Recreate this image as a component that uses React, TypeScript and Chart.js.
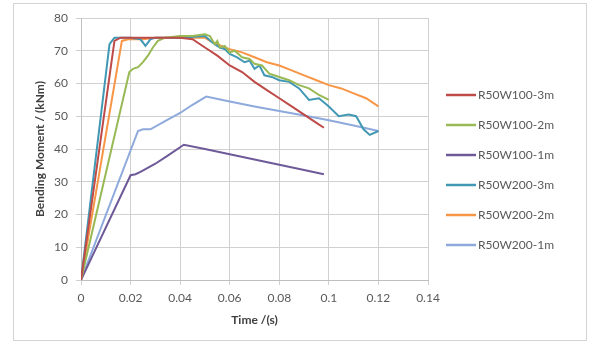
import { useEffect, useRef } from "react";
import { Chart, registerables } from "chart.js";

Chart.register(...registerables);

// ---- data ----
const seriesNames = [
  "R50W100-3m",
  "R50W100-2m",
  "R50W100-1m",
  "R50W200-3m",
  "R50W200-2m",
  "R50W200-1m",
];
const seriesColors = ["#BE4B48", "#98B954", "#6E5A98", "#4198B5", "#F79646", "#8EA9DB"];

const tW100_3 = [0, 0.0135, 0.016, 0.02, 0.03, 0.04, 0.045, 0.05, 0.055, 0.06, 0.065, 0.07, 0.075, 0.08, 0.085, 0.09, 0.095, 0.098];
const vW100_3 = [0, 73, 74, 74, 74, 74, 73.5, 71, 68.5, 65.5, 63.5, 60.5, 58, 55.5, 53, 50.5, 48, 46.5];

const tW100_2 = [0, 0.0195, 0.021, 0.023, 0.025, 0.027, 0.029, 0.031, 0.034, 0.04, 0.045, 0.05, 0.052, 0.054, 0.055, 0.056, 0.058, 0.06, 0.062, 0.065, 0.068, 0.07, 0.073, 0.076, 0.08, 0.084, 0.088, 0.092, 0.096, 0.1];
const vW100_2 = [0, 63.5, 64.5, 65, 66.5, 68.5, 71, 73, 74, 74.5, 74.5, 75, 74.5, 72, 73, 71, 71.5, 69.5, 70, 68, 67.5, 66, 65.5, 63, 62, 61, 59.5, 58.5, 56.5, 55];

const tW100_1 = [0, 0.02, 0.022, 0.024, 0.03, 0.035, 0.0415, 0.05, 0.06, 0.07, 0.08, 0.09, 0.098];
const vW100_1 = [0, 32, 32.3, 33, 35.5, 38, 41.3, 40, 38.4, 36.8, 35.2, 33.6, 32.3];

const tW200_3 = [0, 0.0115, 0.0135, 0.02, 0.024, 0.026, 0.028, 0.03, 0.04, 0.05, 0.053, 0.056, 0.058, 0.06, 0.063, 0.066, 0.068, 0.07, 0.072, 0.074, 0.077, 0.08, 0.084, 0.088, 0.092, 0.096, 0.1, 0.104, 0.108, 0.111, 0.114, 0.1165, 0.12];
const vW200_3 = [0, 72, 74, 74, 73.5, 71.5, 73.5, 74, 74, 74.5, 72.5, 71, 70.5, 69, 68, 66.5, 67, 64.5, 65.5, 62.5, 62, 61, 60.5, 58.5, 55, 55.5, 53, 50, 50.5, 50, 46, 44.3, 45.5];

const tW200_2 = [0, 0.0165, 0.019, 0.025, 0.03, 0.04, 0.05, 0.052, 0.055, 0.058, 0.06, 0.065, 0.07, 0.075, 0.08, 0.085, 0.09, 0.095, 0.1, 0.105, 0.11, 0.115, 0.12];
const vW200_2 = [0, 73, 73.5, 73.5, 74, 74, 74, 73, 72, 71, 70.5, 69.5, 68, 66.5, 65.5, 64, 62.5, 61, 59.5, 58.5, 57, 55.5, 53];

const tW200_1 = [0, 0.023, 0.025, 0.028, 0.035, 0.04, 0.045, 0.0505, 0.06, 0.07, 0.08, 0.09, 0.1, 0.11, 0.12];
const vW200_1 = [0, 45.5, 46, 46, 49, 51, 53.5, 56, 54.5, 53, 51.6, 50.2, 48.8, 47.2, 45.5];

const seriesTimes = [tW100_3, tW100_2, tW100_1, tW200_3, tW200_2, tW200_1];
const seriesValues = [vW100_3, vW100_2, vW100_1, vW200_3, vW200_2, vW200_1];

const xTitle = "Time /(s)";
const yTitle = "Bending Moment / (kNm)";

const FONT = "Lato, 'Open Sans', 'Liberation Sans', sans-serif";

const framePlugin = {
  id: "frame",
  beforeDraw(chart: any) {
    const ctx = chart.ctx;
    ctx.save();
    ctx.fillStyle = "#ffffff";
    ctx.fillRect(0, 0, chart.width, chart.height);
    ctx.strokeStyle = "#d4d4d4";
    ctx.lineWidth = 1;
    ctx.strokeRect(13.5, 3.5, chart.width - 18, chart.height - 7);
    ctx.restore();
  },
};

const legendPlugin = {
  id: "sideLegend",
  afterDraw(chart: any) {
    const ctx = chart.ctx;
    const area = chart.chartArea;
    ctx.save();
    ctx.font = `12px ${FONT}`;
    ctx.textBaseline = "middle";
    ctx.textAlign = "left";
    chart.data.datasets.forEach((ds: any, i: number) => {
      const y = 95 + 30 * i;
      const x0 = area.right + 18;
      ctx.strokeStyle = ds.borderColor;
      ctx.lineWidth = 2.5;
      ctx.beginPath();
      ctx.moveTo(x0, y);
      ctx.lineTo(x0 + 30, y);
      ctx.stroke();
      ctx.fillStyle = "#595959";
      ctx.fillText(ds.label, x0 + 32, y);
    });
    ctx.restore();
  },
};

export default function App() {
  const ref = useRef<HTMLCanvasElement | null>(null);

  useEffect(() => {
    document.body.style.margin = "0";
    if (!ref.current) return;
    const datasets = seriesNames.map((name, i) => ({
      label: name,
      data: seriesTimes[i].map((t, j) => ({ x: t, y: seriesValues[i][j] })),
      borderColor: seriesColors[i],
      backgroundColor: seriesColors[i],
      borderWidth: 2,
      pointRadius: 0,
      tension: 0,
      fill: false,
    }));
    const chart = new Chart(ref.current, {
      type: "line",
      data: { datasets },
      plugins: [framePlugin, legendPlugin],
      options: {
        animation: false,
        responsive: false,
        devicePixelRatio: 1,
        layout: { padding: { left: 14, top: 18, right: 163, bottom: 4 } },
        plugins: {
          legend: { display: false },
          tooltip: { enabled: false },
        },
        scales: {
          x: {
            type: "linear",
            min: 0,
            max: 0.14,
            ticks: {
              stepSize: 0.02,
              padding: 6,
              color: "#595959",
              font: { family: FONT, size: 12 },
              callback: (v: any) => String(Number(Number(v).toFixed(2))),
            },
            grid: { color: "#d0d0d0", tickLength: 5 },
            border: { color: "#bfbfbf" },
            title: {
              display: true,
              text: xTitle,
              color: "#404040",
              font: { family: FONT, size: 12, weight: "bold" },
              padding: { top: 0, bottom: 13 },
            },
            afterFit: (s: any) => {
              s.height = 60;
            },
          },
          y: {
            type: "linear",
            min: 0,
            max: 80,
            ticks: {
              stepSize: 10,
              padding: 8,
              color: "#595959",
              font: { family: FONT, size: 12 },
            },
            grid: { color: "#d0d0d0", tickLength: 5 },
            border: { color: "#bfbfbf" },
            title: {
              display: true,
              text: yTitle,
              color: "#404040",
              font: { family: FONT, size: 12, weight: "bold" },
              padding: { top: 19, bottom: 0 },
            },
            afterFit: (s: any) => {
              s.width = 67;
            },
          },
        },
      } as any,
    });
    return () => chart.destroy();
  }, []);

  return (
    <div style={{ width: 591, height: 344 }}>
      <canvas ref={ref} width={591} height={344} style={{ display: "block", width: 591, height: 344 }} />
    </div>
  );
}
